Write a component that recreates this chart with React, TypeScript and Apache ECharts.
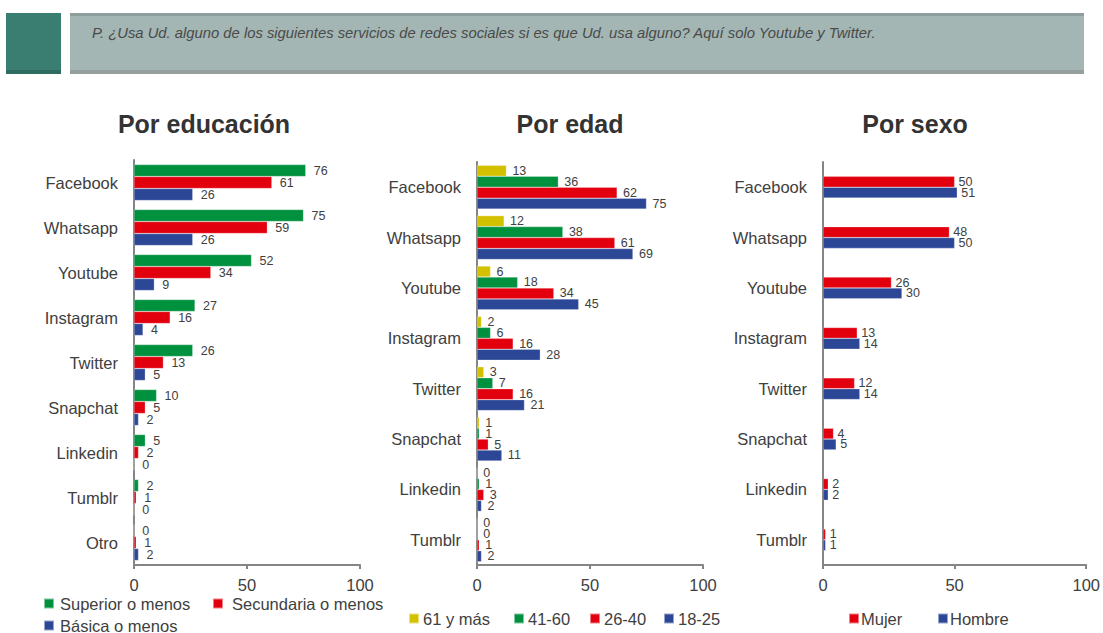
import React, { useEffect, useRef } from "react";
import * as echarts from "echarts";

const eduCategories = ["Facebook", "Whatsapp", "Youtube", "Instagram", "Twitter", "Snapchat", "Linkedin", "Tumblr", "Otro"];
const eduSuperior = [76, 75, 52, 27, 26, 10, 5, 2, 0];
const eduSecundaria = [61, 59, 34, 16, 13, 5, 2, 1, 1];
const eduBasica = [26, 26, 9, 4, 5, 2, 0, 0, 2];

const ageCategories = ["Facebook", "Whatsapp", "Youtube", "Instagram", "Twitter", "Snapchat", "Linkedin", "Tumblr"];
const age61 = [13, 12, 6, 2, 3, 1, 0, 0];
const age41 = [36, 38, 18, 6, 7, 1, 1, 0];
const age26 = [62, 61, 34, 16, 16, 5, 3, 1];
const age18 = [75, 69, 45, 28, 21, 11, 2, 2];

const sexCategories = ["Facebook", "Whatsapp", "Youtube", "Instagram", "Twitter", "Snapchat", "Linkedin", "Tumblr"];
const sexMujer = [50, 48, 26, 13, 12, 4, 2, 1];
const sexHombre = [51, 50, 30, 14, 14, 5, 2, 1];

const panelTitles = ["Por educación", "Por edad", "Por sexo"];
const headerText = "P. ¿Usa Ud. alguno de los siguientes servicios de redes sociales si es que Ud. usa alguno? Aquí solo Youtube y Twitter.";
const xMin = 0;
const xMax = 100;
const xInterval = 50;

const GREEN = "#00913F";
const RED = "#E2000F";
const BLUE = "#2D4797";
const YELLOW = "#D3C100";
const TXT = "#404040";
const FONT = "'Liberation Sans', Arial, sans-serif";

export default function App() {
  const ref = useRef<HTMLDivElement>(null);
  useEffect(() => {
    if (!ref.current) return;
    const chart = echarts.init(ref.current, null, { renderer: "svg" });

    const grids = [
      { left: 134, top: 160, width: 226, height: 405 },
      { left: 477, top: 162, width: 226, height: 403 },
      { left: 823, top: 162, width: 266, height: 403 },
    ];
    const cats = [eduCategories, ageCategories, sexCategories];

    const xAxes = grids.map((_, i) => ({
      type: "value",
      gridIndex: i,
      min: xMin,
      max: xMax,
      interval: xInterval,
      splitLine: { show: false },
      axisLine: { show: true, lineStyle: { color: "#858585", width: 2 } },
      axisTick: { show: true, length: 4, lineStyle: { color: "#858585", width: 2 } },
      axisLabel: { color: TXT, fontSize: 16.5, fontFamily: FONT, margin: 11 },
    }));
    const yAxes = grids.map((_, i) => ({
      type: "category",
      gridIndex: i,
      data: cats[i],
      inverse: true,
      axisLine: { show: true, lineStyle: { color: "#858585", width: 2 } },
      axisTick: { show: false },
      axisLabel: { color: TXT, fontSize: 16.5, fontFamily: FONT, margin: 16 },
    }));

    const mk = (name: string, data: number[], color: string, gi: number, gap: string, dist: number) => ({
      name,
      type: "bar",
      xAxisIndex: gi,
      yAxisIndex: gi,
      data,
      barGap: "0%",
      barCategoryGap: gap,
      itemStyle: { color, borderColor: "rgba(255,255,255,0.5)", borderWidth: 0.5 },
      label: {
        show: true,
        position: "right",
        distance: dist,
        color: TXT,
        fontSize: 12.5,
        lineHeight: 12,
        fontFamily: FONT,
      },
    });

    const series = [
      mk("Superior o menos", eduSuperior, GREEN, 0, "20%", 8),
      mk("Secundaria o menos", eduSecundaria, RED, 0, "20%", 8),
      mk("Básica o menos", eduBasica, BLUE, 0, "20%", 8),
      mk("61 y más", age61, YELLOW, 1, "13%", 6),
      mk("41-60", age41, GREEN, 1, "13%", 6),
      mk("26-40", age26, RED, 1, "13%", 6),
      mk("18-25", age18, BLUE, 1, "13%", 6),
      mk("Mujer", sexMujer, RED, 2, "57%", 4),
      mk("Hombre", sexHombre, BLUE, 2, "57%", 4),
    ];

    const legendItems: [string, number, number, number][] = [
      ["Superior o menos", 43, 604, 1],
      ["Secundaria o menos", 212, 604, 4],
      ["Básica o menos", 43, 626, 1],
      ["61 y más", 408, 619, -1],
      ["41-60", 513, 619, -1],
      ["26-40", 589, 619, -1],
      ["18-25", 663, 619, -1],
      ["Mujer", 848, 619, -3],
      ["Hombre", 937, 619, -3],
    ];
    const legends = legendItems.map(([name, x, y, pad]) => ({
      data: [name],
      left: x,
      top: y - 9,
      padding: 0,
      itemWidth: 10,
      itemHeight: 10,
      itemGap: 0,
      icon: "rect",
      selectedMode: false,
      textStyle: { color: TXT, fontSize: 16.5, fontFamily: FONT, padding: [0, 0, 0, pad] },
    }));

    const titleX = [204, 570, 915];
    const graphic: any[] = [
      { type: "rect", shape: { x: 6, y: 13, width: 55, height: 61 }, style: { fill: "#3A7E72" } },
      { type: "rect", shape: { x: 6, y: 70, width: 55, height: 4 }, style: { fill: "#2E6B60" } },
      { type: "rect", shape: { x: 70, y: 13, width: 1014, height: 61 }, style: { fill: "#A3B6B3" } },
      { type: "rect", shape: { x: 70, y: 13, width: 1014, height: 3 }, style: { fill: "#8E9E9C" } },
      { type: "rect", shape: { x: 70, y: 70, width: 1014, height: 4 }, style: { fill: "#949F9E" } },
      {
        type: "text",
        x: 92,
        y: 33,
        style: {
          text: headerText,
          fill: "#4A4A4A",
          font: "italic 14.8px 'Liberation Sans Narrow', 'Liberation Sans', Arial, sans-serif",
          textVerticalAlign: "middle",
        },
      },
      ...panelTitles.map((t, i) => ({
        type: "text",
        x: titleX[i],
        y: 124,
        style: {
          text: t,
          fill: "#333333",
          font: "bold 25px 'Liberation Sans', Arial, sans-serif",
          textAlign: "center",
          textVerticalAlign: "middle",
        },
      })),
    ];

    chart.setOption({
      animation: false,
      backgroundColor: "#ffffff",
      grid: grids,
      xAxis: xAxes,
      yAxis: yAxes,
      series,
      legend: legends,
      graphic,
    });
    return () => chart.dispose();
  }, []);
  return <div ref={ref} style={{ position: "absolute", left: 0, top: 0, width: 1103, height: 633 }} />;
}
